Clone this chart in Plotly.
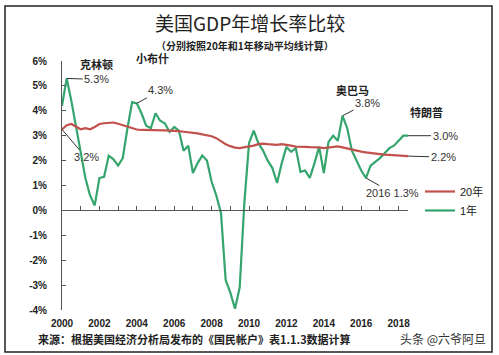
import plotly.graph_objects as go

# quarterly positions 2000Q1 .. 2018Q3
quarters = [2000 + 0.25 * i for i in range(75)]

growth_1y = [
    4.2, 5.3, 4.4, 3.4, 2.4, 1.3, 0.6, 0.2,
    1.3, 1.35, 2.2, 2.05, 1.8, 2.1, 3.3, 4.35,
    4.3, 3.9, 3.4, 3.3, 3.9, 3.6, 3.5, 3.15,
    3.35, 3.2, 2.4, 2.6, 1.5, 1.9, 2.2, 2.0,
    1.15, 0.6, -0.1, -2.8, -3.3, -3.95, -3.1, 0.3,
    2.7, 3.2, 2.7, 2.4, 2.0, 1.7, 1.1, 1.9,
    2.55, 2.35, 2.5, 1.55, 1.6, 1.3, 1.9, 2.55,
    1.5, 2.75, 3.0, 2.8, 3.8, 3.3, 2.4, 2.0,
    1.6, 1.3, 1.8, 1.95, 2.1, 2.3, 2.5, 2.6,
    2.8, 3.0, 3.0,
]

growth_20y = [
    3.25, 3.42, 3.47, 3.38, 3.26, 3.3, 3.26, 3.35,
    3.47, 3.5, 3.52, 3.53, 3.48, 3.42, 3.38, 3.3,
    3.25, 3.23, 3.22, 3.22, 3.22, 3.22, 3.21, 3.2,
    3.2, 3.18, 3.16, 3.14, 3.12, 3.09, 3.05, 3.02,
    2.98, 2.9, 2.78, 2.66, 2.58, 2.52, 2.5, 2.53,
    2.55, 2.6, 2.66, 2.68, 2.66, 2.65, 2.63, 2.66,
    2.64, 2.6, 2.56, 2.54, 2.55, 2.54, 2.55, 2.53,
    2.5, 2.52, 2.55, 2.57, 2.53, 2.48, 2.43, 2.39,
    2.36, 2.33, 2.3, 2.28, 2.26, 2.24, 2.23, 2.22,
    2.22, 2.2, 2.18,
]

x_label_years = [2000, 2002, 2004, 2006, 2008, 2010, 2012, 2014, 2016, 2018]
x_minor_years = list(range(2001, 2019))
y_ticks = [-4, -3, -2, -1, 0, 1, 2, 3, 4, 5, 6]
y_tick_text = [f"{v}%" for v in y_ticks]

GREEN = "#34a56d"
RED = "#c2504c"
AXIS = "#555555"
FONT = "Liberation Sans, Noto Sans CJK SC"
CJK = "Noto Sans CJK SC"

W, H = 499, 355
x_dom = [62 / W, 408 / W]
y_dom = [(H - 310) / H, (H - 61) / H]
y_rng = [-4, 6]
zero_pos = y_dom[0] + (0 - y_rng[0]) / (y_rng[1] - y_rng[0]) * (y_dom[1] - y_dom[0])
x_rng = [quarters[0], quarters[-1]]

fig = go.Figure()
fig.add_trace(go.Scatter(x=quarters, y=growth_1y, mode="lines", name="1年",
                         line=dict(color=GREEN, width=2.2)))
fig.add_trace(go.Scatter(x=quarters, y=growth_20y, mode="lines", name="20年",
                         line=dict(color=RED, width=2.2)))
# carrier for the zero-line axis
fig.add_trace(go.Scatter(x=[quarters[0], quarters[-1]], y=[0, 0], xaxis="x2",
                         mode="lines", line=dict(width=0, color="rgba(0,0,0,0)"),
                         showlegend=False, hoverinfo="skip"))


def px(x):
    return x / W


def py(y):
    return (H - y) / H


def label(text, x, y, size=12, family=CJK, color="#222", xanchor="center"):
    return dict(text=text, x=px(x), y=py(y), xref="paper", yref="paper",
                xanchor=xanchor, yanchor="middle", showarrow=False,
                font=dict(family=family, size=size, color=color))


annotations = [
    label("美国GDP年增长率比较", 250, 22, size=19),
    label("<b>（分别按照20年和1年移动平均线计算）</b>", 245, 45, size=10),
    label("<b>克林顿</b>", 96, 64, size=11),
    label("<b>小布什</b>", 152, 58, size=11),
    label("<b>奥巴马</b>", 352, 90, size=11),
    label("<b>特朗普</b>", 426, 112, size=11),
    label("<b>来源：根据美国经济分析局发布的《国民帐户》表1.1.3数据计算</b>", 36, 339,
          size=11, xanchor="left"),
    label("头条 @六爷阿旦", 443, 338, color="#333"),
]


def callout(xv, yv, text, ax, ay):
    return dict(x=xv, y=yv, xref="x", yref="y", text=text, showarrow=True,
                arrowhead=0, arrowwidth=1, arrowcolor="#333", ax=ax, ay=ay,
                font=dict(family=FONT, size=11, color="#333"))


annotations += [
    callout(quarters[1], growth_1y[1], "5.3%", 30, 1),
    callout(quarters[0], growth_20y[0], "3.2%", 24, 28),
    callout(quarters[16], growth_1y[16], "4.3%", 24, -13),
    callout(quarters[60], growth_1y[60], "3.8%", 25, -13),
    callout(quarters[-1], growth_1y[-1], "3.0%", 37, 0),
    callout(quarters[-1], growth_20y[-1], "2.2%", 35, 1),
    callout(quarters[65], growth_1y[65], "2016 1.3%", 27, 15),
]

fig.update_layout(
    width=W, height=H,
    margin=dict(l=0, r=0, t=0, b=0, autoexpand=False),
    paper_bgcolor="white", plot_bgcolor="white",
    showlegend=True,
    legend=dict(x=px(420), y=py(177), xanchor="left", yanchor="top",
                traceorder="reversed", bgcolor="rgba(0,0,0,0)",
                font=dict(family=FONT, size=11, color="#222"),
                tracegroupgap=0, itemwidth=30),
    xaxis=dict(domain=x_dom, range=x_rng, tickvals=x_label_years,
               ticktext=[f"<b>{v}</b>" for v in x_label_years],
               showline=False, ticks="", showgrid=False, zeroline=False,
               automargin=False,
               tickfont=dict(family=FONT, size=10, color="#222"),
               ticklabelstandoff=6),
    xaxis2=dict(domain=x_dom, range=x_rng, overlaying="x", anchor="free",
                position=zero_pos, showline=True, linecolor=AXIS, linewidth=1,
                ticks="inside", tickvals=x_minor_years, ticklen=4, tickcolor=AXIS,
                automargin=False,
                showticklabels=False, showgrid=False, zeroline=False),
    yaxis=dict(domain=y_dom, range=y_rng, tickvals=y_ticks,
               ticktext=[f"<b>{t}</b>" for t in y_tick_text],
               showline=True, linecolor=AXIS, linewidth=1,
               ticks="inside", ticklen=4, tickcolor=AXIS,
               showgrid=False, zeroline=False, automargin=False,
               tickfont=dict(family=FONT, size=10, color="#222"),
               ticklabelstandoff=12),
    annotations=annotations,
    shapes=[dict(type="rect", xref="paper", yref="paper",
                 x0=px(5), x1=px(492), y0=py(352), y1=py(6),
                 line=dict(color="#222", width=1.5))],
)

fig.write_html("out.html", config={"displayModeBar": False},
               post_script="document.body.style.margin='0px';document.body.style.padding='0px';")
